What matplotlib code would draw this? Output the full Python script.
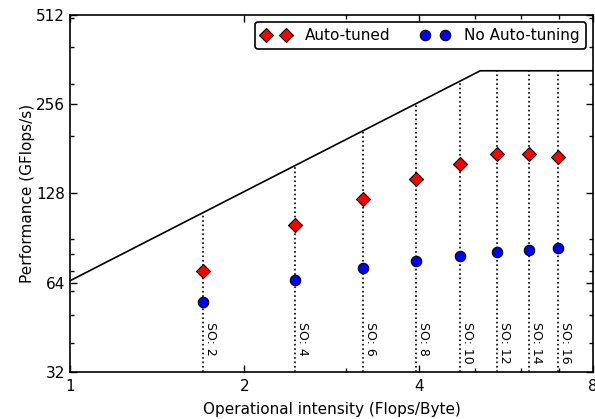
import numpy as np
import matplotlib
matplotlib.use("Agg")
from matplotlib import pyplot as plt
from matplotlib.ticker import LogLocator, NullFormatter, FuncFormatter

# operational intensity of each space order (Flops/Byte)
space_orders = [2, 4, 6, 8, 10, 12, 14, 16]
oi = [1.70, 2.45, 3.20, 3.96, 4.72, 5.46, 6.21, 6.97]
perf_tuned = [70.1, 100.2, 123.0, 143.3, 160.6, 173.5, 173.5, 169.6]
perf_plain = [55.3, 65.4, 72.0, 75.6, 78.6, 81.5, 82.7, 83.6]

# machine roofline
bandwidth = 65.0   # GB/s
peak = 332.0       # GFlops/s

plt.rcParams['font.family'] = 'DejaVu Sans'
fig = plt.figure(figsize=(5.95, 4.19), dpi=100)
ax = fig.add_axes([0.1176, 0.1122, 0.879, 0.852])

x_roof = np.geomspace(1, 8, 400)
y_roof = np.minimum(bandwidth * x_roof, peak)
ax.plot(x_roof, y_roof, 'k-', lw=1.2)

for so, x in zip(space_orders, oi):
    top = min(bandwidth * x, peak)
    ax.plot([x, x], [32, top], 'k:', lw=1.2)
    ax.text(x * 1.004, 47, "SO: %d" % so, rotation=-90, va='top', ha='left', fontsize=9)

ax.plot(oi, perf_tuned, 'D', color='red', mec='black', mew=0.8, ms=7, label='Auto-tuned', ls='none')
ax.plot(oi, perf_plain, 'o', color='blue', mec='black', mew=0.8, ms=7.5, label='No Auto-tuning', ls='none')

ax.set_xscale('log', base=2)
ax.set_yscale('log', base=2)
ax.set_xlim(1, 8)
ax.set_ylim(32, 512)

ax.xaxis.set_major_locator(LogLocator(base=2))
ax.yaxis.set_major_locator(LogLocator(base=2))
ax.xaxis.set_minor_locator(LogLocator(base=10, subs=np.arange(2, 10)))
ax.yaxis.set_minor_locator(LogLocator(base=10, subs=np.arange(2, 10)))
fmt = FuncFormatter(lambda v, p: "%d" % v)
ax.xaxis.set_major_formatter(fmt)
ax.yaxis.set_major_formatter(fmt)
ax.xaxis.set_minor_formatter(NullFormatter())
ax.yaxis.set_minor_formatter(NullFormatter())

ax.tick_params(which='both', direction='in', top=True, right=True, labelsize=11)
ax.tick_params(which='major', length=5, width=1)
ax.tick_params(which='minor', length=3, width=1)
ax.tick_params(axis='x', pad=5)
for s in ax.spines.values():
    s.set_linewidth(1.2)

ax.set_xlabel("Operational intensity (Flops/Byte)", fontsize=11, labelpad=5.5)
ax.set_ylabel("Performance (GFlops/s)", fontsize=11, labelpad=1)

leg = ax.legend(loc='upper right', ncol=2, numpoints=2, fontsize=11, fancybox=True,
                framealpha=1, edgecolor='black', borderaxespad=0.45,
                handlelength=1.9, handletextpad=0.95, columnspacing=2.0, borderpad=0.4)
leg.get_frame().set_linewidth(1.2)

fig.savefig("out.png", dpi=100)
